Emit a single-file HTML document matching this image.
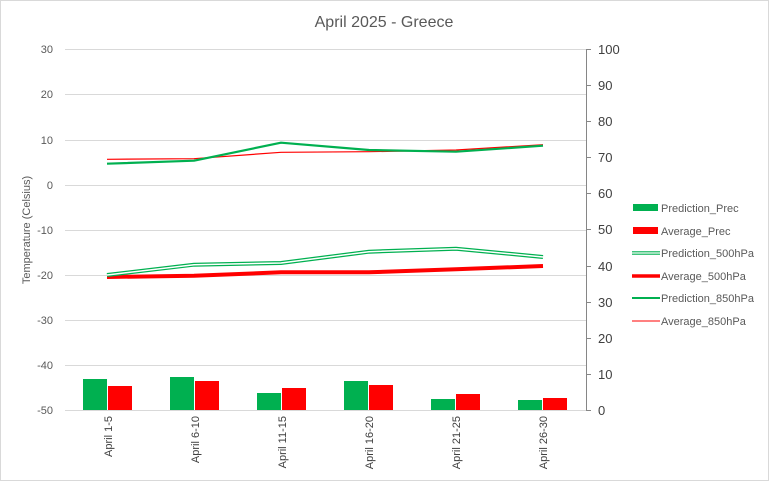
<!DOCTYPE html>
<html><head><meta charset="utf-8"><style>body{margin:0;background:#fff}svg{display:block;font-family:"Liberation Sans",sans-serif}</style></head><body>
<svg width="769" height="481" viewBox="0 0 769 481">
<rect x="0.5" y="0.5" width="768" height="480" fill="#fff" stroke="#d9d9d9"/>
<text x="384" y="27" font-size="16" fill="#595959" text-anchor="middle">April 2025 - Greece</text>
<g stroke="#d9d9d9" stroke-width="1">
<line x1="65" x2="587" y1="49.5" y2="49.5"/><line x1="65" x2="587" y1="94.5" y2="94.5"/><line x1="65" x2="587" y1="140.5" y2="140.5"/><line x1="65" x2="587" y1="185.5" y2="185.5"/><line x1="65" x2="587" y1="230.5" y2="230.5"/><line x1="65" x2="587" y1="275.5" y2="275.5"/><line x1="65" x2="587" y1="320.5" y2="320.5"/><line x1="65" x2="587" y1="365.5" y2="365.5"/><line x1="65" x2="587" y1="410.5" y2="410.5"/>
</g>
<g stroke="#868686"><line x1="586.5" x2="586.5" y1="49" y2="410"/>
<g><line x1="586" x2="591" y1="49.5" y2="49.5"/><line x1="586" x2="591" y1="85.5" y2="85.5"/><line x1="586" x2="591" y1="121.5" y2="121.5"/><line x1="586" x2="591" y1="157.5" y2="157.5"/><line x1="586" x2="591" y1="193.5" y2="193.5"/><line x1="586" x2="591" y1="229.5" y2="229.5"/><line x1="586" x2="591" y1="266.5" y2="266.5"/><line x1="586" x2="591" y1="302.5" y2="302.5"/><line x1="586" x2="591" y1="338.5" y2="338.5"/><line x1="586" x2="591" y1="374.5" y2="374.5"/><line x1="586" x2="591" y1="410.5" y2="410.5"/></g></g>
<g font-size="11" fill="#595959" text-anchor="end">
<text x="53" y="53">30</text><text x="53" y="98">20</text><text x="53" y="144">10</text><text x="53" y="189">0</text><text x="53" y="234">-10</text><text x="53" y="279">-20</text><text x="53" y="324">-30</text><text x="53" y="369">-40</text><text x="53" y="414">-50</text>
</g>
<g font-size="13" fill="#404040">
<text x="598" y="54">100</text><text x="598" y="90">90</text><text x="598" y="126">80</text><text x="598" y="162">70</text><text x="598" y="198">60</text><text x="598" y="234">50</text><text x="598" y="271">40</text><text x="598" y="307">30</text><text x="598" y="343">20</text><text x="598" y="379">10</text><text x="598" y="415">0</text>
</g>
<text transform="translate(30,230) rotate(-90)" font-size="11" fill="#595959" text-anchor="middle">Temperature (Celsius)</text>
<g fill="#00b050">
<rect x="83" y="379" width="24" height="31"/><rect x="170" y="377" width="24" height="33"/><rect x="257" y="393" width="24" height="17"/><rect x="344" y="381" width="24" height="29"/><rect x="431" y="399" width="24" height="11"/><rect x="518" y="400" width="24" height="10"/>
</g>
<g fill="#ff0000">
<rect x="108" y="386" width="24" height="24"/><rect x="195" y="381" width="24" height="29"/><rect x="282" y="388" width="24" height="22"/><rect x="369" y="385" width="24" height="25"/><rect x="456" y="394" width="24" height="16"/><rect x="543" y="398" width="24" height="12"/>
</g>
<g fill="none" stroke-linejoin="round">
<polyline points="107,277 194,275.7 281,272.3 369,272.3 456,269.3 543,266" stroke="#ff0000" stroke-width="4"/>
<polyline points="107,275 194,264.7 281,263 369,251.7 456,248.7 543,257" stroke="#00b050" stroke-width="4"/>
<polyline points="107,275 194,264.7 281,263 369,251.7 456,248.7 543,257" stroke="#fff" stroke-width="1.5"/>
<polyline points="107,159.3 194,158.7 281,152.3 369,151.7 456,150 543,144.7" stroke="#ff0000" stroke-width="1.2"/>
<polyline points="107,163.7 194,160.7 281,142.7 369,150 456,151.7 543,145.7" stroke="#00b050" stroke-width="2.2"/>
</g>
<g font-size="11" fill="#404040" text-anchor="end">
<text transform="translate(112,416) rotate(-90)">April 1-5</text>
<text transform="translate(199,416) rotate(-90)">April 6-10</text>
<text transform="translate(286,416) rotate(-90)">April 11-15</text>
<text transform="translate(373,416) rotate(-90)">April 16-20</text>
<text transform="translate(460,416) rotate(-90)">April 21-25</text>
<text transform="translate(547,416) rotate(-90)">April 26-30</text>
</g>
<rect x="633" y="204" width="25" height="7" fill="#00b050"/>
<rect x="633" y="227" width="25" height="7" fill="#ff0000"/>
<line x1="632" x2="660" y1="253" y2="253" stroke="#00b050" stroke-width="3.5"/><line x1="632" x2="660" y1="253" y2="253" stroke="#fff" stroke-width="1.2"/>
<line x1="632" x2="660" y1="276" y2="276" stroke="#ff0000" stroke-width="3.5"/>
<line x1="632" x2="660" y1="298" y2="298" stroke="#00b050" stroke-width="2"/>
<line x1="632" x2="660" y1="321" y2="321" stroke="#ff0000" stroke-width="1"/>
<g font-size="11" fill="#595959">
<text x="661" y="212">Prediction_Prec</text><text x="661" y="235">Average_Prec</text><text x="661" y="257">Prediction_500hPa</text><text x="661" y="280">Average_500hPa</text><text x="661" y="302">Prediction_850hPa</text><text x="661" y="325">Average_850hPa</text>
</g>
</svg>
</body></html>
